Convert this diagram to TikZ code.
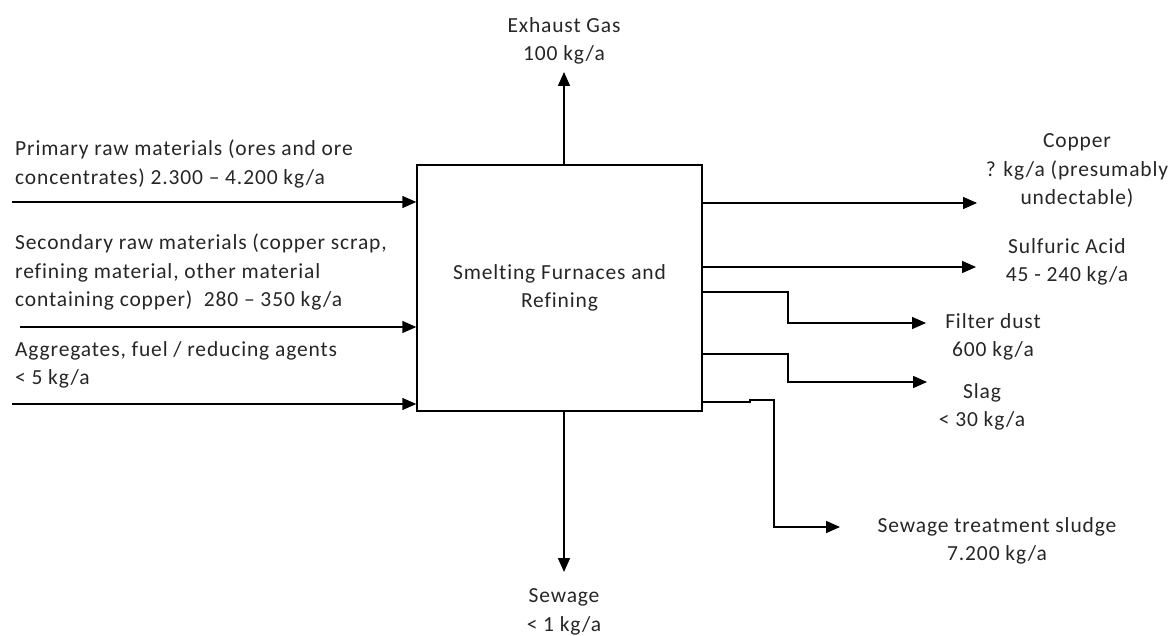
\documentclass[tikz,border=0pt]{standalone}
\usepackage{fontspec}
\setmainfont[Ligatures={NoCommon},LetterSpace=4]{Carlito}
\usetikzlibrary{arrows.meta,calc}
\tikzset{
  txtfont/.style={font=\fontsize{21.5}{28.5}\selectfont,text=black!85},
  flow/.style={line width=1.5pt,-{Triangle[length=14pt,width=12pt]}},
  lbl/.style={inner sep=0pt,txtfont},
  lblL/.style={lbl,align=left,anchor=west},
  lblC/.style={lbl,align=center,anchor=center},
  furnace/.style={draw,line width=1.5pt,minimum width=285pt,minimum height=246pt,inner sep=0pt,align=center,txtfont}
}
\begin{document}
\begin{tikzpicture}[x=1pt,y=-1pt]
\useasboundingbox (0,0) rectangle (1174,636);
\node[furnace] (box) at (559.5,288) {Smelting Furnaces and\\Refining};

% inputs
\coordinate (i1) at (12,202);
\coordinate (i2) at (20,327);
\coordinate (i3) at (12,404);
\draw[flow] (i1) -- (i1 -| box.west);
\draw[flow] (i2) -- (i2 -| box.west);
\draw[flow] (i3) -- (i3 -| box.west);
\node[lblL] (t1) at (15,164) {Primary raw materials (ores and ore\\concentrates) 2.300 -- 4.200 kg/a};
\node[lblL] (t2) at (15,272) {Secondary raw materials (copper scrap,\\refining material, other material\\containing copper)~ 280 -- 350 kg/a};
\node[lblL] (t3) at (15,365) {Aggregates, fuel / reducing agents\\< 5 kg/a};

% top / bottom
\coordinate (ex) at (564,72);
\coordinate (sw) at (564,572);
\draw[flow] (box.north -| ex) -- (ex);
\draw[flow] (box.south -| sw) -- (sw);
\node[lblC] (tex) at (564,41) {Exhaust Gas\\100 kg/a};
\node[lblC] (tsw) at (564,612) {Sewage\\< 1 kg/a};

% outputs
\coordinate (cu) at (977,203);
\coordinate (sa) at (976,267);
\coordinate (fd) at (926,323);
\coordinate (sl) at (927,382);
\coordinate (ss) at (840,527);
\draw[flow] (box.east |- cu) -- (cu);
\draw[flow] (box.east |- sa) -- (sa);
\draw[flow] ($(box.east |- 0,292)$) -- (788,292) -- (788,323) -- (fd);
\draw[flow] ($(box.east |- 0,354)$) -- (788,354) -- (788,382) -- (sl);
\draw[flow] ($(box.east |- 0,402)$) -- (750,402) -- (750,400) -- (774,400) -- (774,527) -- (ss);
\node[lblC] (tcu) at (1077,171) {Copper\\? kg/a (presumably\\undectable)};
\node[lblC] (tsa) at (1067,262) {Sulfuric Acid\\45 - 240 kg/a};
\node[lblC] (tfd) at (993,337) {Filter dust\\600 kg/a};
\node[lblC] (tsl) at (982,407) {Slag\\< 30 kg/a};
\node[lblC] (tss) at (997,541) {Sewage treatment sludge\\7.200 kg/a};
\end{tikzpicture}
\end{document}
